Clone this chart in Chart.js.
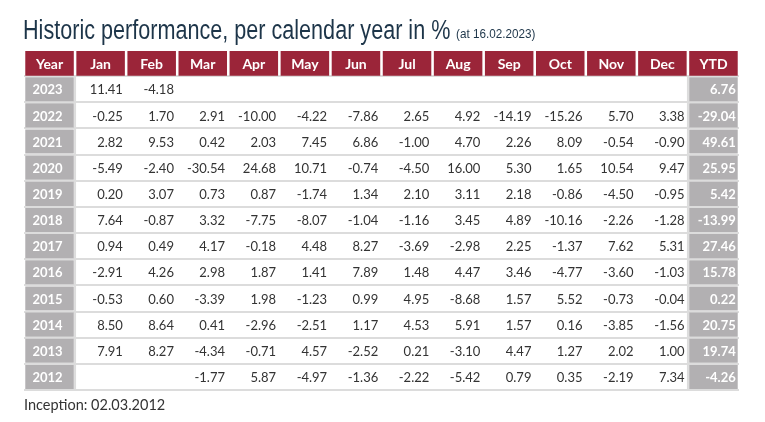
<!DOCTYPE html>
<html>
<head>
<meta charset="utf-8">
<script src="https://cdn.jsdelivr.net/npm/chart.js@4.4.1/dist/chart.umd.min.js"></script>
<style>
  html, body { margin: 0; padding: 0; background: #fff; }
  #wrap { position: relative; width: 765px; height: 422px; overflow: hidden; }
  .title { position: absolute; font-family: "Liberation Sans", Arial, sans-serif; color: #1d3549; white-space: nowrap; transform-origin: 0 0; }
  #title { left: 23px; top: 17px; font-size: 27px; line-height: 27px; transform: scaleX(0.8); }
  #asof { left: 456px; top: 27px; font-size: 13px; line-height: 13px; transform: scaleX(0.9); }
  #note { position: absolute; left: 24px; top: 396px; font-family: Lato, sans-serif; font-size: 14.5px; color: #333; }
  canvas { position: absolute; left: 0; top: 0; }
</style>
</head>
<body>
<div id="wrap">
  <canvas id="perfTable" width="765" height="422"></canvas>
  <div id="title" class="title">Historic performance, per calendar year in %</div>
  <div id="asof" class="title">(at 16.02.2023)</div>
  <div id="note">Inception: 02.03.2012</div>
</div>
<script>
  // Table data
  const months = ['Jan', 'Feb', 'Mar', 'Apr', 'May', 'Jun', 'Jul', 'Aug', 'Sep', 'Oct', 'Nov', 'Dec'];
  const years = ['2023', '2022', '2021', '2020', '2019', '2018', '2017', '2016', '2015', '2014', '2013', '2012'];

  const r2023 = [11.41, -4.18, null, null, null, null, null, null, null, null, null, null];
  const r2022 = [-0.25, 1.70, 2.91, -10.00, -4.22, -7.86, 2.65, 4.92, -14.19, -15.26, 5.70, 3.38];
  const r2021 = [2.82, 9.53, 0.42, 2.03, 7.45, 6.86, -1.00, 4.70, 2.26, 8.09, -0.54, -0.90];
  const r2020 = [-5.49, -2.40, -30.54, 24.68, 10.71, -0.74, -4.50, 16.00, 5.30, 1.65, 10.54, 9.47];
  const r2019 = [0.20, 3.07, 0.73, 0.87, -1.74, 1.34, 2.10, 3.11, 2.18, -0.86, -4.50, -0.95];
  const r2018 = [7.64, -0.87, 3.32, -7.75, -8.07, -1.04, -1.16, 3.45, 4.89, -10.16, -2.26, -1.28];
  const r2017 = [0.94, 0.49, 4.17, -0.18, 4.48, 8.27, -3.69, -2.98, 2.25, -1.37, 7.62, 5.31];
  const r2016 = [-2.91, 4.26, 2.98, 1.87, 1.41, 7.89, 1.48, 4.47, 3.46, -4.77, -3.60, -1.03];
  const r2015 = [-0.53, 0.60, -3.39, 1.98, -1.23, 0.99, 4.95, -8.68, 1.57, 5.52, -0.73, -0.04];
  const r2014 = [8.50, 8.64, 0.41, -2.96, -2.51, 1.17, 4.53, 5.91, 1.57, 0.16, -3.85, -1.56];
  const r2013 = [7.91, 8.27, -4.34, -0.71, 4.57, -2.52, 0.21, -3.10, 4.47, 1.27, 2.02, 1.00];
  const r2012 = [null, null, -1.77, 5.87, -4.97, -1.36, -2.22, -5.42, 0.79, 0.35, -2.19, 7.34];

  const ytd = [6.76, -29.04, 49.61, 25.95, 5.42, -13.99, 27.46, 15.78, 0.22, 20.75, 19.74, -4.26];

  const monthly = [r2023, r2022, r2021, r2020, r2019, r2018, r2017, r2016, r2015, r2014, r2013, r2012];
  const columns = ['Year', ...months, 'YTD'];

  const headerColor = '#9b2539';
  const greyColor = '#b2b0b2';
  const lineColor = '#dcdcdc';
  const barPct = 0.95;

  // Header row cells (row 0) and grey cells for the Year / YTD columns
  const headerCells = columns.map(c => ({ x: c, y: [0, 0.98] }));
  const greyCells = [];
  years.forEach((yr, i) => {
    greyCells.push({ x: 'Year', y: [i + 1.04, i + 1.96] });
    greyCells.push({ x: 'YTD', y: [i + 1.04, i + 1.96] });
  });

  // Light vertical rules at both sides of the month block, then the cell texts
  const cellText = {
    id: 'cellText',
    beforeDatasetsDraw(chart) {
      const { ctx, scales: { x, y } } = chart;
      const colW = x.getPixelForValue(1) - x.getPixelForValue(0);
      ctx.save();
      ctx.strokeStyle = lineColor;
      ctx.lineWidth = 2;
      [0, 12].forEach(i => {
        const edge = x.getPixelForValue(i) + colW / 2;
        ctx.beginPath();
        ctx.moveTo(edge, y.getPixelForValue(1));
        ctx.lineTo(edge, y.getPixelForValue(13));
        ctx.stroke();
      });
      ctx.restore();
    },
    afterDatasetsDraw(chart) {
      const { ctx, scales: { x, y } } = chart;
      const colW = x.getPixelForValue(1) - x.getPixelForValue(0);
      const half = colW * barPct / 2;
      ctx.save();
      ctx.textBaseline = 'middle';

      ctx.fillStyle = '#ffffff';
      ctx.font = 'bold 14px Lato';
      ctx.textAlign = 'center';
      columns.forEach((c, i) => ctx.fillText(c, x.getPixelForValue(i), y.getPixelForValue(0.5) + 1));

      years.forEach((yr, r) => {
        const cy = y.getPixelForValue(r + 1.5) + 1;
        ctx.font = 'bold 13px Lato';
        ctx.fillStyle = '#ffffff';
        ctx.textAlign = 'center';
        ctx.fillText(yr, x.getPixelForValue(0) - 2, cy);
        ctx.textAlign = 'right';
        ctx.fillText(ytd[r].toFixed(2), x.getPixelForValue(13) + half - 2, cy);

        ctx.font = '13px Lato';
        ctx.fillStyle = '#333333';
        monthly[r].forEach((v, m) => {
          if (v !== null) ctx.fillText(v.toFixed(2), x.getPixelForValue(m + 1) + half - 2, cy);
        });
      });
      ctx.restore();
    }
  };

  const ctx = document.getElementById('perfTable').getContext('2d');
  const perfTable = new Chart(ctx, {
    type: 'bar',
    data: {
      labels: columns,
      datasets: [
        {
          label: 'Header',
          data: headerCells,
          backgroundColor: headerColor,
          grouped: false,
          categoryPercentage: 1,
          barPercentage: barPct,
        },
        {
          label: 'Year / YTD',
          data: greyCells,
          backgroundColor: greyColor,
          grouped: false,
          categoryPercentage: 1,
          barPercentage: barPct,
        },
      ],
    },
    options: {
      responsive: false,
      animation: false,
      layout: {
        padding: { left: 24, right: 26, top: 50, bottom: 32 },
      },
      scales: {
        x: {
          type: 'category',
          display: false,
          offset: true,
        },
        y: {
          type: 'linear',
          min: 0,
          max: 13,
          reverse: true,
          ticks: { display: false, stepSize: 1 },
          border: { display: false },
          grid: {
            drawTicks: false,
            lineWidth: 2,
            color: c => (c.tick && c.tick.value === 0 ? 'rgba(0,0,0,0)' : lineColor),
          },
        },
      },
      plugins: {
        legend: { display: false },
        tooltip: { enabled: false },
      },
    },
    plugins: [cellText],
  });
</script>
</body>
</html>
